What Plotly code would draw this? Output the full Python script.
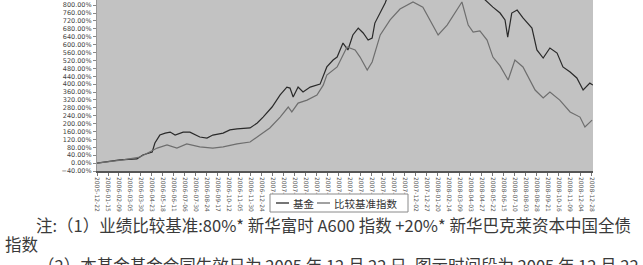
import pandas as pd
import plotly.graph_objects as go

# ---- data ----
inception = "2005-12-22"

fund_days = [0, 51, 89, 102, 123, 129, 140, 152, 163, 174, 192, 207, 229, 245, 258, 281, 296, 312,
             341, 357, 370, 390, 408, 423, 430, 437, 448, 459, 475, 497, 512, 526, 535, 548, 559,
             570, 582, 593, 604, 613, 619, 631, 642, 653, 675, 704, 731, 760, 787, 813, 836, 853,
             869, 882, 898, 909, 915, 924, 936, 949, 969, 980, 994, 1009, 1025, 1038, 1054, 1069,
             1083, 1098, 1105]
fund_pct = [0, 16, 21, 41, 56, 102, 142, 152, 157, 142, 157, 157, 132, 127, 142, 152, 168, 173,
            178, 203, 233, 284, 345, 385, 380, 335, 385, 360, 385, 400, 487, 522, 537, 608, 573,
            649, 684, 659, 623, 633, 709, 765, 811, 877, 952, 1003, 927, 866, 952, 1003, 877, 851,
            816, 790, 760, 725, 638, 760, 775, 735, 684, 573, 532, 583, 557, 487, 461, 431,
            370, 405, 395]

bench_days = [0, 58, 96, 134, 156, 178, 200, 229, 258, 281, 312, 341, 363, 385, 408, 426, 434,
              448, 468, 482, 490, 504, 512, 535, 542, 557, 575, 586, 602, 613, 631, 653, 675, 704,
              726, 746, 760, 780, 798, 813, 827, 838, 853, 869, 882, 898, 916, 931, 949, 976, 994,
              1009, 1031, 1054, 1076, 1087, 1103]
bench_pct = [0, 16, 31, 76, 92, 76, 97, 82, 76, 82, 97, 107, 142, 178, 233, 284, 259,
             304, 319, 335, 345, 395, 446, 487, 522, 588, 573, 537, 471, 512, 649, 725, 780, 816,
             790, 709, 649, 699, 760, 816, 699, 664, 669, 623, 537, 492, 421, 522, 487, 370, 330,
             360, 319, 259, 233, 183, 218]

series_names = ["基金", "比较基准指数"]
series_colors = ["#2a2a2a", "#6e6e6e"]

notes = [
    "注:（1）业绩比较基准:80%* 新华富时 A600 指数 +20%* 新华巴克莱资本中国全债",
    "指数",
    "（2）本基金基金合同生效日为 2005 年 12 月 22 日, 图示时间段为 2005 年 12 月 22",
]

start = pd.Timestamp(inception)
fund_dates = [start + pd.Timedelta(days=d) for d in fund_days]
bench_dates = [start + pd.Timedelta(days=d) for d in bench_days]

fig = go.Figure()
fig.add_trace(go.Scatter(x=fund_dates, y=fund_pct, mode="lines", name=series_names[0],
                         line=dict(color=series_colors[0], width=1.2)))
fig.add_trace(go.Scatter(x=bench_dates, y=bench_pct, mode="lines", name=series_names[1],
                         line=dict(color=series_colors[1], width=1.2)))

H = 265
PB = 171  # plot bottom in px

def py(ypix):
    return (PB - ypix) / PB

def px(xpix):
    return (xpix - 97) / 496

fig.update_layout(
    width=643, height=H,
    margin=dict(l=97, r=50, t=0, b=H - PB, pad=0, autoexpand=False),
    paper_bgcolor="white",
    plot_bgcolor="#c2c2c2",
    font=dict(family="Noto Sans CJK SC, Noto Sans, sans-serif", color="#444"),
    showlegend=False,
    xaxis=dict(
        range=[start, start + pd.Timedelta(days=1105)],
        showgrid=False, zeroline=False,
        showline=True, linecolor="#555", linewidth=1.5,
        ticks="outside", ticklen=3, tickcolor="#777",
        tickmode="linear", tick0=start, dtick=24.5 * 86400000,
        tickformat="%Y-%m-%d", tickangle=90,
        tickfont=dict(size=6, color="#555", family="DejaVu Sans"),
    ),
    yaxis=dict(
        range=[-40, 826],
        showgrid=False, zeroline=False,
        showline=True, linecolor="#999", linewidth=1,
        ticks="outside", ticklen=3, tickcolor="#888",
        tickmode="linear", tick0=0, dtick=40,
        tickformat=".2f", ticksuffix="%",
        tickfont=dict(size=6.5, color="#444", family="DejaVu Sans"),
    ),
)

# legend box (drawn by hand so its compact size matches)
fig.add_shape(type="rect", xref="paper", yref="paper",
              x0=px(270), x1=px(408), y0=py(194), y1=py(212),
              fillcolor="white", line=dict(color="#8a8a8a", width=1), layer="above")
leg_items = [(276, 291), (317, 332)]
for (lx, tx), name, col in zip(leg_items, series_names, series_colors):
    fig.add_shape(type="line", xref="paper", yref="paper",
                  x0=px(lx), x1=px(lx + 13), y0=py(203), y1=py(203),
                  line=dict(color=col, width=1.3), layer="above")
    fig.add_annotation(text=name, xref="paper", yref="paper", x=px(tx), y=py(203),
                       xanchor="left", yanchor="middle", showarrow=False,
                       font=dict(family="Noto Sans CJK SC", size=10.5, color="#333"))

note_font = dict(family="Noto Sans CJK SC", size=16.5, color="#3a3a3a")
fig.add_annotation(text=notes[0], xref="paper", yref="paper", x=px(34), y=py(225),
                   xanchor="left", yanchor="middle", showarrow=False, font=note_font)
fig.add_annotation(text=notes[1], xref="paper", yref="paper", x=px(3), y=py(244),
                   xanchor="left", yanchor="middle", showarrow=False, font=note_font)
fig.add_annotation(text=notes[2], xref="paper", yref="paper", x=px(36), y=py(265),
                   xanchor="left", yanchor="middle", showarrow=False, font=note_font)

fig.write_html("out.html", config={"displayModeBar": False},
               post_script="document.body.style.margin='0';document.body.style.overflow='hidden';")
